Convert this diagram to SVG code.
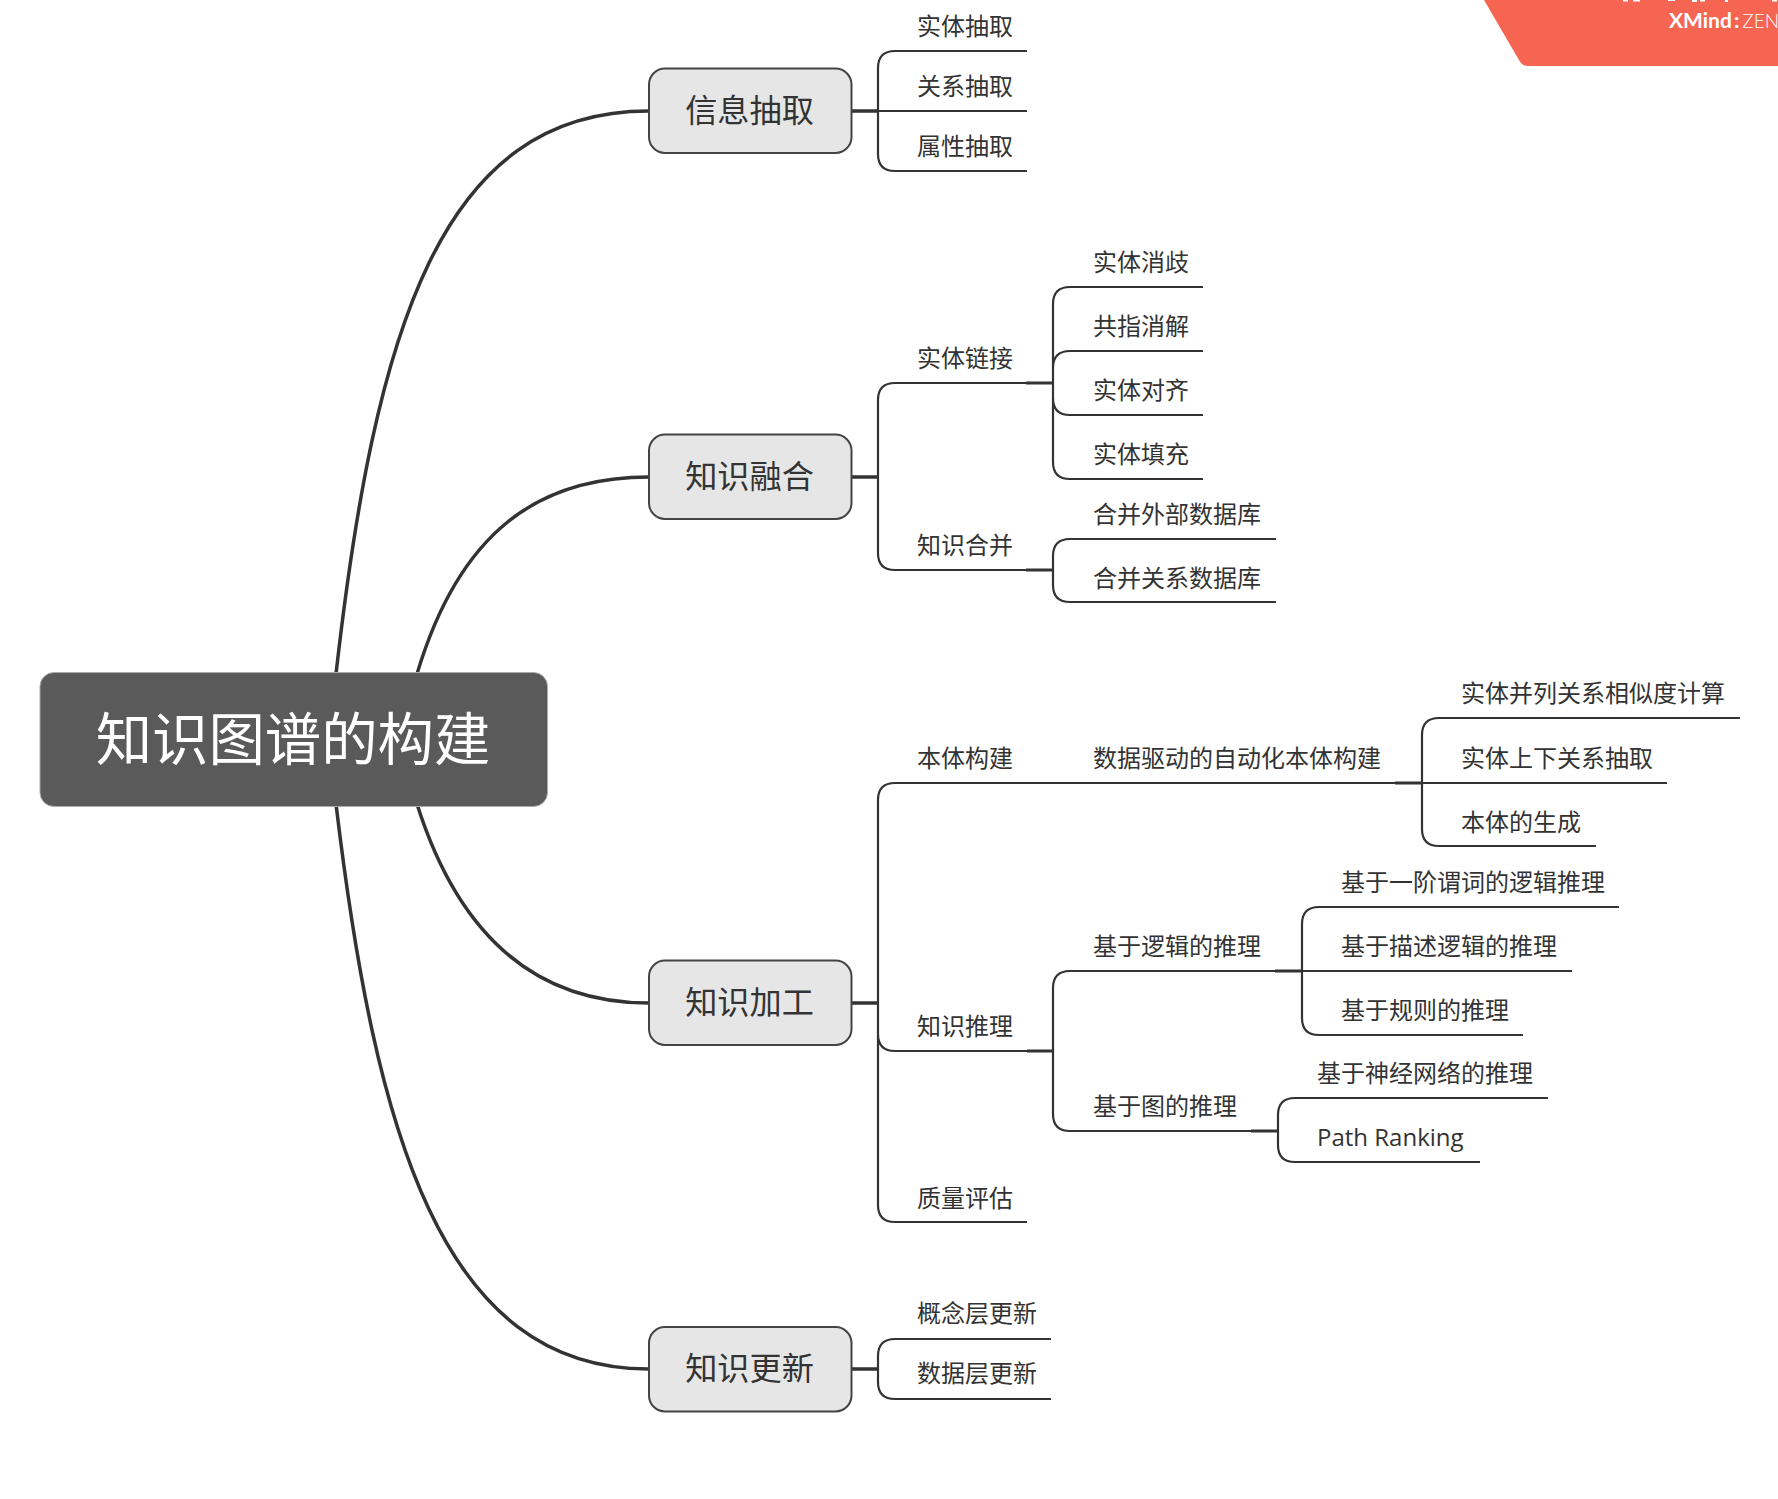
<svg xmlns="http://www.w3.org/2000/svg" width="1778" height="1499" viewBox="0 0 1778 1499">
<style>
text{font-family:"Open Sans","Noto Sans CJK SC",sans-serif;fill:#333}
.l{font-size:24px}
.m{font-size:32.2px;text-anchor:middle}
.t{font-size:56.4px;text-anchor:middle;fill:#fff}
.c{fill:none;stroke:#333;stroke-width:2.2}
.b{fill:none;stroke:#333;stroke-width:3.5}
.s{fill:none;stroke:#333;stroke-width:2.8}
.n{fill:#e6e6e6;stroke:#444;stroke-width:2}
</style>
<rect width="1778" height="1499" fill="#fff"/>
<g id="watermark">
<path d="M1484 0L1519 60Q1522 66 1528 66H1778V0Z" fill="#f66551"/>
<path d="M1623 0h5v1.5h-5zM1633 0h7v1.5h-7zM1668 0h7v1h-7zM1692 0h5v2h-5zM1700 0h5v1.5h-5zM1725 0h3v2h-3zM1772 0h5v1.5h-5z" fill="#fff"/>
<text x="1669" y="28" style="font-family:Lato,sans-serif;font-size:21px;font-weight:700;fill:#fff">XMind<tspan dx="2">:</tspan><tspan dx="3" style="font-weight:300;font-size:19px">ZEN</tspan></text>
</g>
<g id="connectors">
<path class="b" d="M336 674C375 330 440 111 649 111"/>
<path class="b" d="M417 674C460 530 540 477 649 477"/>
<path class="b" d="M417 804C460 940 540 1003 649 1003"/>
<path class="b" d="M336 804C375 1130 440 1369 649 1369"/>
<path class="b" d="M852 111H878M852 477H878M852 1003H878M852 1369H878"/>
<path class="c" d="M1027 51H895Q878 51 878 68V154Q878 171 895 171H1027M878 111H1027"/>
<path class="c" d="M1053 383H895Q878 383 878 400V553Q878 570 895 570H1053"/>
<path class="c" d="M1203 287H1070Q1053 287 1053 304V462Q1053 479 1070 479H1203M1203 351H1070Q1053 351 1053 368V398Q1053 415 1070 415H1203"/>
<path class="s" d="M1026 383H1053M1026 570H1053M1395 783H1422M1027 1051H1053M1275 971H1302M1251 1131H1278"/>
<path class="c" d="M1276 539H1070Q1053 539 1053 556V585Q1053 602 1070 602H1276"/>
<path class="c" d="M1422 783H895Q878 783 878 800V1205Q878 1222 895 1222H1027M878 1034Q878 1051 895 1051H1053"/>
<path class="c" d="M1740 718H1439Q1422 718 1422 735V829Q1422 846 1439 846H1596M1422 783H1667"/>
<path class="c" d="M1302 971H1070Q1053 971 1053 988V1114Q1053 1131 1070 1131H1278"/>
<path class="c" d="M1619 907H1319Q1302 907 1302 924V1018Q1302 1035 1319 1035H1523M1302 971H1572"/>
<path class="c" d="M1548 1098H1295Q1278 1098 1278 1115V1145Q1278 1162 1295 1162H1480"/>
<path class="c" d="M1051 1339H895Q878 1339 878 1356V1382Q878 1399 895 1399H1051"/>
</g>
<g id="root"><rect x="40" y="672.500" width="507.500" height="134" rx="14" fill="#5a5a5a" stroke="#aaa" stroke-width="1"/><text class="t" x="293" y="760">知识图谱的构建</text></g>
<g id="n1"><rect class="n" x="649" y="68.500" width="202.500" height="84.500" rx="16"/><text class="m" x="749.500" y="122">信息抽取</text></g>
<g id="n2"><rect class="n" x="649" y="434.500" width="202.500" height="84.500" rx="16"/><text class="m" x="749.500" y="488">知识融合</text></g>
<g id="n3"><rect class="n" x="649" y="960.500" width="202.500" height="84.500" rx="16"/><text class="m" x="749.500" y="1014">知识加工</text></g>
<g id="n4"><rect class="n" x="649" y="1327" width="202.500" height="84.500" rx="16"/><text class="m" x="749.500" y="1380">知识更新</text></g>
<g id="a1"><text class="l" x="917" y="35">实体抽取</text></g>
<g id="a2"><text class="l" x="917" y="95">关系抽取</text></g>
<g id="a3"><text class="l" x="917" y="155">属性抽取</text></g>
<g id="b1"><text class="l" x="917" y="367">实体链接</text></g>
<g id="b2"><text class="l" x="917" y="554">知识合并</text></g>
<g id="b11"><text class="l" x="1093" y="271">实体消歧</text></g>
<g id="b12"><text class="l" x="1093" y="335">共指消解</text></g>
<g id="b13"><text class="l" x="1093" y="399">实体对齐</text></g>
<g id="b14"><text class="l" x="1093" y="463">实体填充</text></g>
<g id="b21"><text class="l" x="1093" y="523">合并外部数据库</text></g>
<g id="b22"><text class="l" x="1093" y="587">合并关系数据库</text></g>
<g id="c1"><text class="l" x="917" y="767">本体构建</text></g>
<g id="c11"><text class="l" x="1093" y="767">数据驱动的自动化本体构建</text></g>
<g id="c111"><text class="l" x="1461" y="702">实体并列关系相似度计算</text></g>
<g id="c112"><text class="l" x="1461" y="767">实体上下关系抽取</text></g>
<g id="c113"><text class="l" x="1461" y="831">本体的生成</text></g>
<g id="c2"><text class="l" x="917" y="1035">知识推理</text></g>
<g id="c21"><text class="l" x="1093" y="955">基于逻辑的推理</text></g>
<g id="c211"><text class="l" x="1341" y="891">基于一阶谓词的逻辑推理</text></g>
<g id="c212"><text class="l" x="1341" y="955">基于描述逻辑的推理</text></g>
<g id="c213"><text class="l" x="1341" y="1019">基于规则的推理</text></g>
<g id="c22"><text class="l" x="1093" y="1115">基于图的推理</text></g>
<g id="c221"><text class="l" x="1317" y="1082">基于神经网络的推理</text></g>
<g id="c222"><text class="l" x="1317" y="1146">Path Ranking</text></g>
<g id="c3"><text class="l" x="917" y="1207">质量评估</text></g>
<g id="d1"><text class="l" x="917" y="1322">概念层更新</text></g>
<g id="d2"><text class="l" x="917" y="1382">数据层更新</text></g>
</svg>
